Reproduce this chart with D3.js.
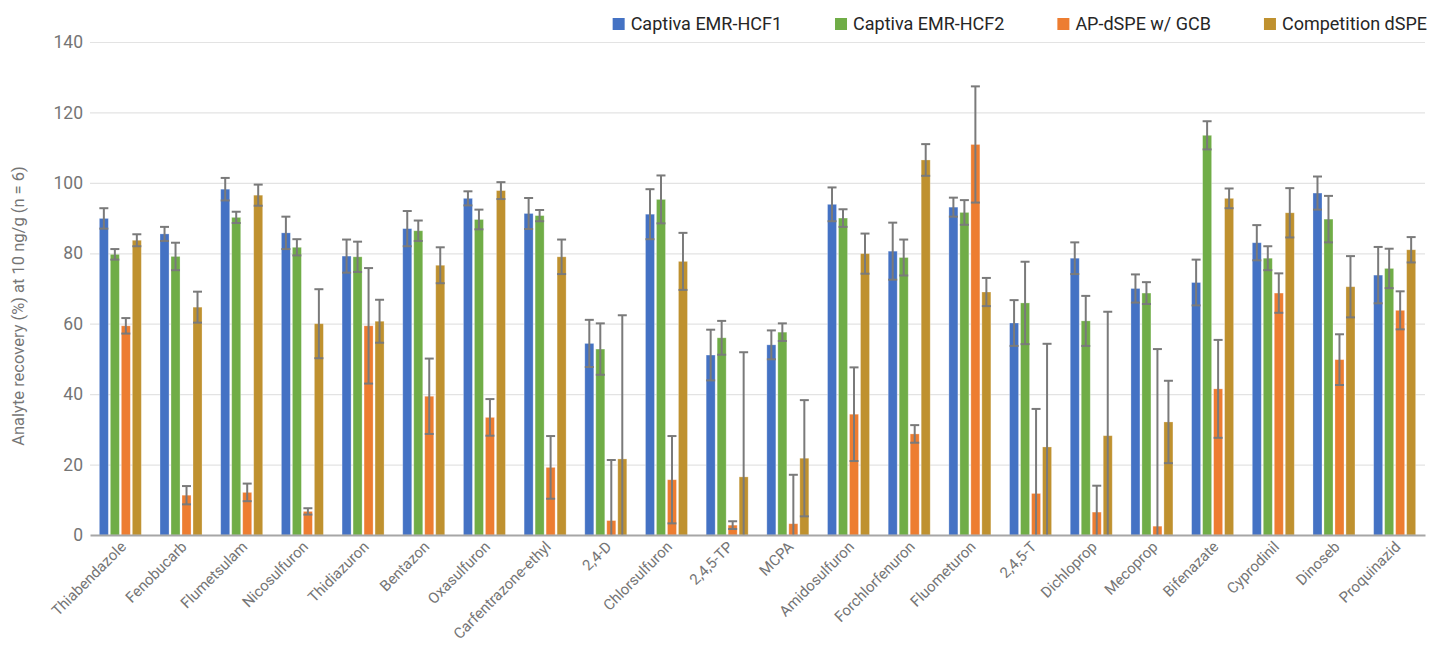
<!DOCTYPE html>
<html>
<head>
<meta charset="utf-8">
<script src="https://cdn.jsdelivr.net/npm/d3@7"></script>
<style>
    body { margin: 0; background: #fff; }
    #chart { width: 1431px; height: 646px; }
    text { font-family: Roboto, "Noto Sans", sans-serif; }
    .tick text { fill: #757575; }
    .legendLabel { fill: #262626; font-size: 18px; }
    .axisLabel { fill: #757575; font-size: 16.5px; }
</style>
</head>
<body>
<div id="chart"></div>
<script>
//chart data
const analytes = ["Thiabendazole", "Fenobucarb", "Flumetsulam", "Nicosulfuron", "Thidiazuron", "Bentazon",
    "Oxasulfuron", "Carfentrazone-ethyl", "2,4-D", "Chlorsulfuron", "2,4,5-TP", "MCPA", "Amidosulfuron",
    "Forchlorfenuron", "Fluometuron", "2,4,5-T", "Dichloprop", "Mecoprop", "Bifenazate", "Cyprodinil",
    "Dinoseb", "Proquinazid"];

const keys = ["Captiva EMR-HCF1", "Captiva EMR-HCF2", "AP-dSPE w/ GCB", "Competition dSPE"];

const hcf1 = [89.9, 85.5, 98.2, 85.8, 79.2, 87.0, 95.6, 91.3, 54.4, 91.1, 51.1, 54.0, 93.9, 80.6, 93.1, 60.2, 78.6, 70.0, 71.7, 83.0, 97.1, 73.8];
const hcf1Err = [2.9, 2.0, 3.2, 4.6, 4.7, 5.0, 2.0, 4.4, 6.7, 7.1, 7.2, 4.1, 4.8, 8.1, 2.7, 6.5, 4.5, 4.0, 6.5, 5.0, 4.7, 8.0];

const hcf2 = [79.7, 79.1, 90.2, 81.7, 79.0, 86.4, 89.6, 90.7, 52.8, 95.3, 56.0, 57.6, 90.0, 78.8, 91.6, 65.9, 60.8, 68.7, 113.5, 78.6, 89.7, 75.7];
const hcf2Err = [1.5, 3.9, 1.6, 2.3, 4.3, 2.9, 2.8, 1.6, 7.3, 6.8, 4.8, 2.5, 2.5, 5.1, 3.5, 11.7, 7.1, 3.1, 4.0, 3.4, 6.6, 5.6];

const apDspe = [59.4, 11.3, 12.1, 6.7, 59.4, 39.4, 33.4, 19.2, 4.1, 15.7, 2.8, 3.2, 34.3, 28.7, 110.9, 11.8, 6.5, 2.5, 41.5, 68.7, 49.8, 63.8];
const apDspeErr = [2.2, 2.6, 2.5, 0.9, 16.4, 10.7, 5.2, 8.9, 17.2, 12.4, 1.1, 13.9, 13.3, 2.5, 16.5, 24.0, 7.5, 50.3, 13.9, 5.6, 7.2, 5.4];

const compDspe = [83.7, 64.7, 96.5, 60.0, 60.7, 76.6, 97.8, 79.0, 21.6, 77.7, 16.5, 21.8, 79.9, 106.5, 69.0, 25.0, 28.2, 32.1, 95.6, 91.5, 70.5, 81.0];
const compDspeErr = [1.7, 4.4, 3.0, 9.8, 6.1, 5.1, 2.4, 4.9, 40.8, 8.1, 35.4, 16.5, 5.7, 4.5, 4.0, 29.3, 35.2, 11.7, 2.8, 7.0, 8.7, 3.6];

const yTicks = [0, 20, 40, 60, 80, 100, 120, 140];

//Setting up the SVG
const width = 1431;
const height = 646;
const margin = { top: 42, left: 90, right: 6, bottom: 111 };

const svg = d3.select("#chart")
    .append("svg")
    .attr("width", width)
    .attr("height", height);

const colorScale = d3.scaleOrdinal()
    .domain(keys)
    .range(["#4472C4", "#70AD47", "#ED7D31", "#BF912F"]);

// flatten the series into one row per bar
const values = [hcf1, hcf2, apDspe, compDspe];
const errors = [hcf1Err, hcf2Err, apDspeErr, compDspeErr];
const rows = [];
analytes.forEach((a, i) => {
    keys.forEach((k, j) => {
        rows.push({ analyte: a, key: k, value: values[j][i], err: errors[j][i] });
    });
});

//scales
const xScale = d3.scaleBand()
    .domain(analytes)
    .range([margin.left, width - margin.right]);

const groupWidth = 42;
const x1 = d3.scaleBand()
    .domain(keys)
    .range([0, groupWidth])
    .paddingInner(0.18);

const yScale = d3.scaleLinear()
    .domain([0, 140])
    .range([height - margin.bottom, margin.top]);

//gridlines and y axis
const yAxis = svg.append("g")
    .attr("transform", `translate(${margin.left},0)`)
    .call(d3.axisLeft(yScale).tickValues(yTicks).tickSize(-(width - margin.left - margin.right)).tickPadding(7));
yAxis.select(".domain").remove();
yAxis.selectAll(".tick line")
    .attr("stroke", "#e3e3e3")
    .attr("stroke-width", 1.2);
yAxis.selectAll(".tick text")
    .style("font-size", "17.5px");
yAxis.select(".tick:first-of-type line").remove();

const yAxisLabel = svg.append("text")
    .attr("class", "axisLabel")
    .attr("transform", "rotate(-90)")
    .attr("x", -306)
    .attr("y", 24)
    .attr("text-anchor", "middle")
    .text("Analyte recovery (%) at 10 ng/g (n = 6)");

//bars
const offset = (xScale.bandwidth() - groupWidth) / 2;
const barX = d => xScale(d.analyte) + offset + x1(d.key);

svg.append("g")
    .selectAll("rect")
    .data(rows)
    .enter()
    .append("rect")
    .attr("x", barX)
    .attr("y", d => yScale(d.value))
    .attr("width", x1.bandwidth())
    .attr("height", d => yScale(0) - yScale(d.value))
    .attr("fill", d => colorScale(d.key))
    .attr("stroke", "#ffffff")
    .attr("stroke-opacity", 0.35)
    .attr("stroke-width", 0.8);

//error bars
const errG = svg.append("g")
    .attr("stroke", "#7a7a7a")
    .attr("stroke-width", 2);

const cap = 4.5;
rows.forEach(d => {
    const cx = barX(d) + x1.bandwidth() / 2;
    const hi = yScale(d.value + d.err);
    const lo = yScale(Math.max(0, d.value - d.err));
    errG.append("line").attr("x1", cx).attr("x2", cx).attr("y1", hi).attr("y2", lo);
    errG.append("line").attr("x1", cx - cap).attr("x2", cx + cap).attr("y1", hi).attr("y2", hi);
    if (d.value - d.err > 0) {
        errG.append("line").attr("x1", cx - cap).attr("x2", cx + cap).attr("y1", lo).attr("y2", lo);
    }
});

//x axis baseline and rotated labels
const xAxis = svg.append("g")
    .attr("transform", `translate(0,${height - margin.bottom})`)
    .call(d3.axisBottom(xScale).tickSize(0).tickPadding(0));
xAxis.select(".domain")
    .attr("stroke", "#a6a6a6")
    .attr("stroke-width", 2);
xAxis.selectAll(".tick text")
    .style("font-size", "15px")
    .attr("text-anchor", "end")
    .attr("dy", "0.35em")
    .attr("transform", "translate(3,9) rotate(-45)");

//legend
const legend = svg.append("g");
let lx = width - 4;
keys.slice().reverse().forEach(k => {
    const t = legend.append("text")
        .attr("class", "legendLabel")
        .attr("y", 24)
        .attr("dy", "0.35em")
        .text(k);
    const w = t.node().getComputedTextLength();
    t.attr("x", lx - w);
    legend.append("rect")
        .attr("x", lx - w - 18)
        .attr("y", 18)
        .attr("width", 12)
        .attr("height", 12)
        .attr("fill", colorScale(k));
    lx = lx - w - 18 - 53;
});
</script>
</body>
</html>
